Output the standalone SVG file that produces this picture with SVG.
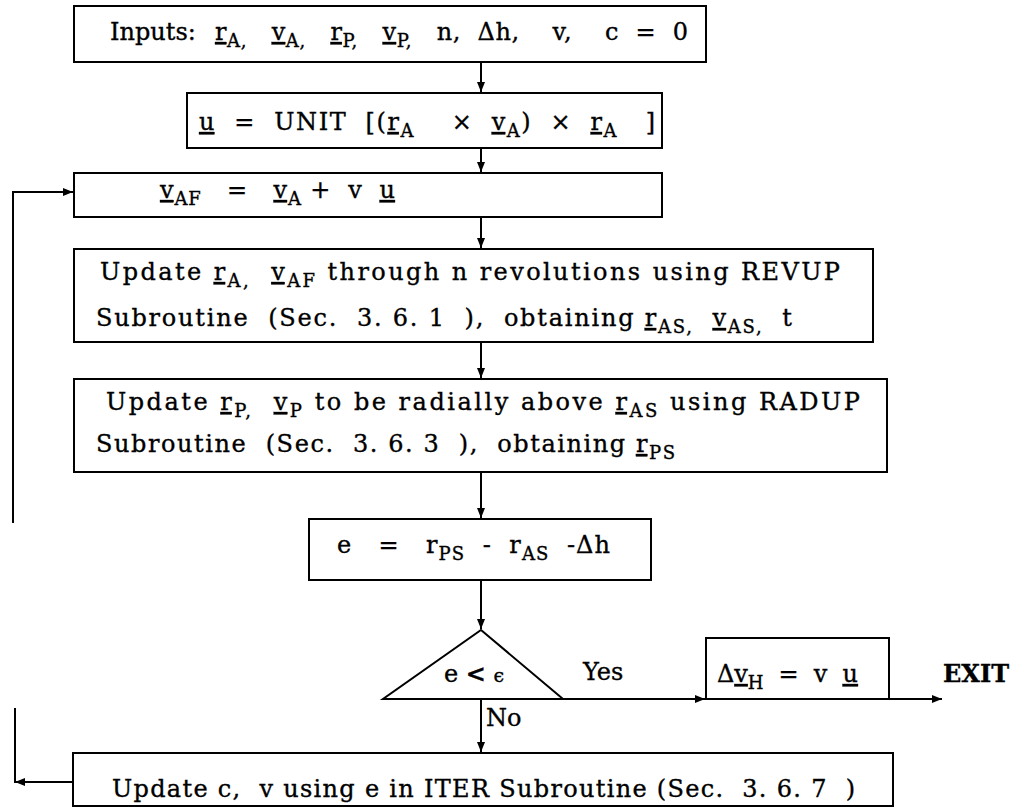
<svg xmlns="http://www.w3.org/2000/svg" width="1024" height="809" viewBox="0 0 1024 809">
  <style>
    .box { fill: none; stroke: #000; stroke-width: 2; }
    .ln { fill: none; stroke: #000; stroke-width: 2; }
    .t { font-family: "DejaVu Serif", "Liberation Serif", serif; font-size: 24px; fill: #000; stroke: #000; stroke-width: 0.35; }
    .s { font-size: 18px; }
    .u { text-decoration: underline; text-decoration-thickness: 2px; }
    .b { font-weight: bold; }
  </style>
  <defs>
    <marker id="arr" viewBox="0 0 10 8" refX="10" refY="4" markerWidth="11" markerHeight="8" markerUnits="userSpaceOnUse" orient="auto">
      <path d="M0,0 L10,4 L0,8 z" fill="#000"/>
    </marker>
  </defs>
  <rect width="1024" height="809" fill="#fff"/>

  <!-- connectors -->
  <g id="connectors">
    <path class="ln" d="M481,62 V92" marker-end="url(#arr)"/>
    <path class="ln" d="M481,148 V172" marker-end="url(#arr)"/>
    <path class="ln" d="M481,217 V248" marker-end="url(#arr)"/>
    <path class="ln" d="M481,342 V378" marker-end="url(#arr)"/>
    <path class="ln" d="M481,472 V518" marker-end="url(#arr)"/>
    <path class="ln" d="M481,580 V629" marker-end="url(#arr)"/>
    <path class="ln" d="M481,699 V752" marker-end="url(#arr)"/>
    <path class="ln" d="M563,699 H705" marker-end="url(#arr)"/>
    <path class="ln" d="M889,699 H942" marker-end="url(#arr)"/>
    <!-- loop back from the ITER box to the velocity update -->
    <path class="ln" d="M73,782 H15" marker-end="url(#arr)"/>
    <path class="ln" d="M15,783 V708"/>
    <path class="ln" d="M13,523 V192 H73" marker-end="url(#arr)"/>
  </g>

  <g id="inputs">
    <rect class="box" x="74" y="6" width="632" height="56"/>
    <text class="t" x="110" y="40">Inputs:</text>
    <text class="t" x="215" y="40" textLength="473" lengthAdjust="spacing" xml:space="preserve"><tspan class="u">r</tspan><tspan class="s" dy="7">A,</tspan><tspan dy="-7">   </tspan><tspan class="u">v</tspan><tspan class="s" dy="7">A,</tspan><tspan dy="-7">   </tspan><tspan class="u">r</tspan><tspan class="s" dy="7">P,</tspan><tspan dy="-7">   </tspan><tspan class="u">v</tspan><tspan class="s" dy="7">P,</tspan><tspan dy="-7">   n,  Δh,    v,    c  =  0</tspan></text>
  </g>

  <g id="unit-vector">
    <rect class="box" x="187" y="93" width="475" height="55"/>
    <text class="t" x="199" y="130" textLength="456" lengthAdjust="spacing" xml:space="preserve"><tspan class="u">u</tspan>  =  UNIT  [(<tspan class="u">r</tspan><tspan class="s" dy="7">A</tspan><tspan dy="-7">    ×  </tspan><tspan class="u">v</tspan><tspan class="s" dy="7">A</tspan><tspan dy="-7">)  ×  </tspan><tspan class="u">r</tspan><tspan class="s" dy="7">A</tspan><tspan dy="-7">   ]</tspan></text>
  </g>

  <g id="velocity-update">
    <rect class="box" x="74" y="173" width="588" height="44"/>
    <text class="t" x="160" y="198" textLength="235" lengthAdjust="spacing" xml:space="preserve"><tspan class="u">v</tspan><tspan class="s" dy="7">AF</tspan><tspan dy="-7">   =   </tspan><tspan class="u">v</tspan><tspan class="s" dy="7">A</tspan><tspan dy="-7"> +  v  </tspan><tspan class="u">u</tspan></text>
  </g>

  <g id="revup">
    <rect class="box" x="74" y="249" width="799" height="93"/>
    <text class="t" x="100" y="280" textLength="740" lengthAdjust="spacing" xml:space="preserve">Update <tspan class="u">r</tspan><tspan class="s" dy="7">A,</tspan><tspan dy="-7">  </tspan><tspan class="u">v</tspan><tspan class="s" dy="7">AF</tspan><tspan dy="-7"> through n revolutions using REVUP</tspan></text>
    <text class="t" x="96" y="326" textLength="696" lengthAdjust="spacing" xml:space="preserve">Subroutine  (Sec.  3. 6. 1  ),  obtaining <tspan class="u">r</tspan><tspan class="s" dy="7">AS,</tspan><tspan dy="-7">  </tspan><tspan class="u">v</tspan><tspan class="s" dy="7">AS,</tspan><tspan dy="-7">  t</tspan></text>
  </g>

  <g id="radup">
    <rect class="box" x="74" y="379" width="813" height="93"/>
    <text class="t" x="106" y="410" textLength="754" lengthAdjust="spacing" xml:space="preserve">Update <tspan class="u">r</tspan><tspan class="s" dy="7">P,</tspan><tspan dy="-7">  </tspan><tspan class="u">v</tspan><tspan class="s" dy="7">P</tspan><tspan dy="-7"> to be radially above </tspan><tspan class="u">r</tspan><tspan class="s" dy="7">AS</tspan><tspan dy="-7"> using RADUP</tspan></text>
    <text class="t" x="96" y="452" textLength="579" lengthAdjust="spacing" xml:space="preserve">Subroutine  (Sec.  3. 6. 3  ),  obtaining <tspan class="u">r</tspan><tspan class="s" dy="7">PS</tspan></text>
  </g>

  <g id="error">
    <rect class="box" x="309" y="519" width="342" height="61"/>
    <text class="t" x="337" y="553" textLength="273" lengthAdjust="spacing" xml:space="preserve">e   =   r<tspan class="s" dy="7">PS</tspan><tspan dy="-7">  -  r</tspan><tspan class="s" dy="7">AS</tspan><tspan dy="-7">  -Δh</tspan></text>
  </g>

  <g id="test">
    <path class="ln" d="M481,630 L563,699 L383,699 Z"/>
    <text class="t" x="444" y="682" xml:space="preserve">e <tspan class="b">&lt;</tspan> <tspan font-size="19">ϵ</tspan></text>
    <text class="t" x="583" y="680">Yes</text>
    <text class="t" x="486" y="726">No</text>
  </g>

  <g id="delta-v">
    <rect class="box" x="706" y="638" width="183" height="61"/>
    <text class="t" x="717" y="682" textLength="141" lengthAdjust="spacing" xml:space="preserve">Δ<tspan class="u">v</tspan><tspan class="s" dy="7">H</tspan><tspan dy="-7">  =  v  </tspan><tspan class="u">u</tspan></text>
  </g>

  <g id="exit">
    <text class="t b" x="943" y="682">EXIT</text>
  </g>

  <g id="iter">
    <rect class="box" x="73" y="753" width="820" height="53"/>
    <text class="t" x="112" y="797" textLength="743" lengthAdjust="spacing" xml:space="preserve">Update c,  v using e in ITER Subroutine (Sec.  3. 6. 7  )</text>
  </g>
</svg>
